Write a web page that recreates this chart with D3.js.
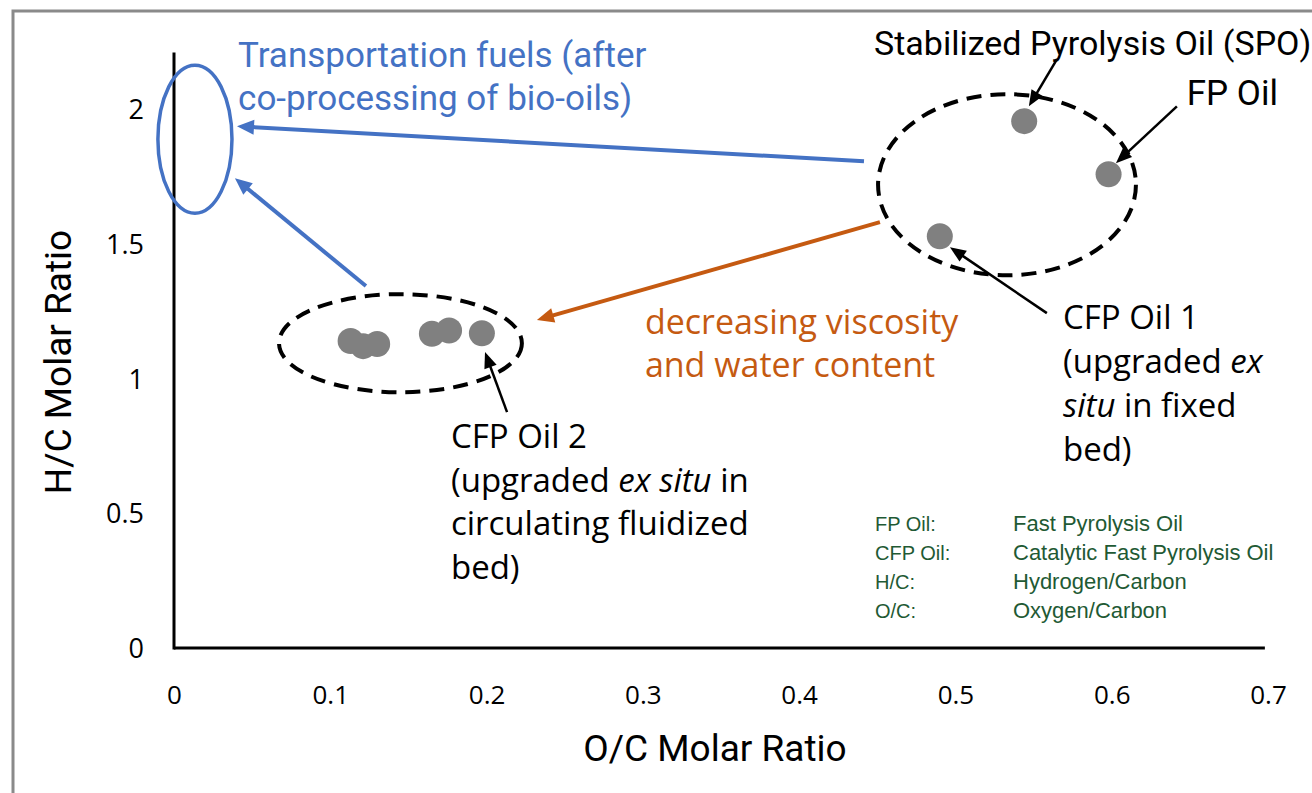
<!DOCTYPE html>
<html>
<head>
<meta charset="utf-8"/>
<title>H/C vs O/C Molar Ratio of bio-oils</title>
<script src="https://d3js.org/d3.v7.min.js"></script>
<style>
  body { margin: 0; background: #fff; }
  text { font-family: "Open Sans", sans-serif; fill: #000; }
  .narrow { font-family: Roboto, sans-serif; }
</style>
</head>
<body>
<svg width="1312" height="793"></svg>
<script>
// ---- data ----
var oilLabels = ["SPO", "FP Oil", "CFP Oil 1", "CFP Oil 2", "CFP Oil 2", "CFP Oil 2", "CFP Oil 2", "CFP Oil 2", "CFP Oil 2"];
var ocRatio = [0.544, 0.598, 0.490, 0.113, 0.121, 0.130, 0.165, 0.176, 0.197];
var hcRatio = [1.955, 1.758, 1.528, 1.139, 1.120, 1.128, 1.166, 1.178, 1.168];
var xTicks = [0, 0.1, 0.2, 0.3, 0.4, 0.5, 0.6, 0.7];
var yTicks = [0, 0.5, 1, 1.5, 2];
var legendTerms = ["FP Oil:", "CFP Oil:", "H/C:", "O/C:"];
var legendMeanings = ["Fast Pyrolysis Oil", "Catalytic Fast Pyrolysis Oil", "Hydrogen/Carbon", "Oxygen/Carbon"];

var svg = d3.select("svg");

// frame of the pasted figure
svg.append("rect")
  .attr("x", 13).attr("y", 11)
  .attr("width", 1400).attr("height", 900)
  .attr("fill", "none").attr("stroke", "#8a8a8a").attr("stroke-width", 3);

var x = d3.scaleLinear().domain([0, 0.7]).range([174, 1268]);
var y = d3.scaleLinear().domain([0, 2]).range([648, 109]);

// axes (no tick marks, just labels)
var xAxis = svg.append("g")
  .attr("transform", "translate(0," + y(0) + ")")
  .call(d3.axisBottom(x).tickValues(xTicks).tickSize(0).tickFormat(d3.format("")));
xAxis.select(".domain").remove();
xAxis.selectAll("text").attr("y", 56).attr("dy", 0)
  .style("font-size", "26px").style("font-family", "Open Sans, sans-serif");

var yAxis = svg.append("g")
  .attr("transform", "translate(" + x(0) + ",0)")
  .call(d3.axisLeft(y).tickValues(yTicks).tickSize(0).tickPadding(30).tickFormat(d3.format("")));
yAxis.select(".domain").remove();
yAxis.selectAll("text").attr("dy", "0.36em")
  .style("font-size", "27px").style("font-family", "Open Sans, sans-serif");

svg.append("line")
  .attr("x1", x(0)).attr("x2", x(0.698)).attr("y1", y(0)).attr("y2", y(0))
  .attr("stroke", "#000").attr("stroke-width", 3);
svg.append("line")
  .attr("x1", x(0)).attr("x2", x(0)).attr("y1", y(0) + 1.5).attr("y2", y(2.21))
  .attr("stroke", "#000").attr("stroke-width", 3);

svg.append("text").attr("class", "narrow")
  .attr("x", (x(0) + x(0.7)) / 2 - 6).attr("y", 761)
  .attr("text-anchor", "middle").style("font-size", "37px")
  .text("O/C Molar Ratio");
svg.append("text").attr("class", "narrow")
  .attr("transform", "translate(71,362) rotate(-90)")
  .attr("text-anchor", "middle").style("font-size", "37px")
  .text("H/C Molar Ratio");

// dashed groupings + target ellipse (data units)
var ellipses = [
  { cx: 0.533, cy: 1.719, rx: 0.0825, ry: 0.336, color: "#000", dash: "15,9", w: 4 },
  { cx: 0.1449, cy: 1.131, rx: 0.0777, ry: 0.182, color: "#000", dash: "15,9", w: 4 },
  { cx: 0.0134, cy: 1.888, rx: 0.0237, ry: 0.2745, color: "#4472C4", dash: null, w: 3.5 }
];
ellipses.forEach(function (e) {
  svg.append("ellipse")
    .attr("cx", x(e.cx)).attr("cy", y(e.cy))
    .attr("rx", x(e.rx) - x(0)).attr("ry", y(0) - y(e.ry))
    .attr("fill", "none").attr("stroke", e.color).attr("stroke-width", e.w)
    .attr("stroke-dasharray", e.dash);
});

// arrows: from -> to in data units
function arrow(x0, y0, x1, y1, color, w, headLen, headW) {
  var p0 = [x(x0), y(y0)], p1 = [x(x1), y(y1)];
  var dx = p1[0] - p0[0], dy = p1[1] - p0[1];
  var len = Math.sqrt(dx * dx + dy * dy);
  var ux = dx / len, uy = dy / len;
  var bx = p1[0] - ux * headLen, by = p1[1] - uy * headLen;
  svg.append("line")
    .attr("x1", p0[0]).attr("y1", p0[1])
    .attr("x2", bx + ux * 2).attr("y2", by + uy * 2)
    .attr("stroke", color).attr("stroke-width", w);
  svg.append("path")
    .attr("d", "M" + p1[0] + "," + p1[1] +
      "L" + (bx - uy * headW / 2) + "," + (by + ux * headW / 2) +
      "L" + (bx + uy * headW / 2) + "," + (by - ux * headW / 2) + "Z")
    .attr("fill", color);
}
arrow(0.4415, 1.806, 0.0403, 1.936, "#4472C4", 4, 17, 15);
arrow(0.1228, 1.343, 0.0390, 1.743, "#4472C4", 4, 17, 15);
arrow(0.4517, 1.580, 0.2322, 1.217, "#C55A11", 4, 17, 15);
arrow(0.565, 2.185, 0.547, 2.010, "#000", 2.5, 16, 13);
arrow(0.6417, 2.010, 0.6027, 1.799, "#000", 2.5, 16, 13);
arrow(0.5585, 1.2426, 0.4965, 1.487, "#000", 2.5, 16, 13);
arrow(0.2131, 0.875, 0.1990, 1.098, "#000", 2.5, 16, 13);

// data points
svg.selectAll("circle.pt")
  .data(ocRatio)
  .enter().append("circle")
  .attr("class", "pt")
  .attr("cx", function (d) { return x(d); })
  .attr("cy", function (d, i) { return y(hcRatio[i]); })
  .attr("r", 13)
  .attr("fill", "#808080");

// multi-line labels; each line = list of [text, italic]
function label(xv, yv, lines, size, color, cls, lh) {
  var t = svg.append("text")
    .attr("x", x(xv)).attr("y", y(yv))
    .style("font-size", size + "px").style("fill", color)
    .style("white-space", "pre");
  if (cls) t.attr("class", cls);
  lines.forEach(function (ln, i) {
    ln.forEach(function (part, j) {
      var s = t.append("tspan").text(part[0]);
      if (j === 0) s.attr("x", x(xv)).attr("dy", i === 0 ? 0 : lh);
      if (part[1]) s.style("font-style", "italic");
    });
  });
}

label(0.041, 2.155, [[["Transportation fuels (after"]], [["co-processing of bio-oils)"]]], 35, "#4472C4", "narrow", 43);
label(0.4479, 2.200, [[["Stabilized Pyrolysis Oil (SPO)"]]], 34, "#000", "narrow", 0);
label(0.648, 2.014, [[["FP Oil"]]], 35, "#000", "narrow", 0);
label(0.3013, 1.165, [[["decreasing viscosity"]], [["and water content"]]], 34, "#C55A11", null, 43);
label(0.5688, 1.183, [[["CFP Oil 1"]], [["(upgraded "], ["ex", true]], [["situ", true], [" in fixed"]], [["bed)"]]], 33, "#000", null, 44);
label(0.1772, 0.742, [[["CFP Oil 2"]], [["(upgraded "], ["ex situ", true], [" in"]], [["circulating fluidized"]], [["bed)"]]], 33, "#000", null, 43.5);

// abbreviations box
var legend = svg.append("g");
legendTerms.forEach(function (term, i) {
  legend.append("text").attr("x", 875).attr("y", 531 + i * 29)
    .style("fill", "#1f5a34").style("font-family", "Liberation Sans, Arial, sans-serif").style("font-size", "20px")
    .text(term);
  legend.append("text").attr("x", 1013).attr("y", 531 + i * 29)
    .style("fill", "#1f5a34").style("font-family", "Liberation Sans, Arial, sans-serif").style("font-size", "22px")
    .text(legendMeanings[i]);
});
</script>
</body>
</html>
